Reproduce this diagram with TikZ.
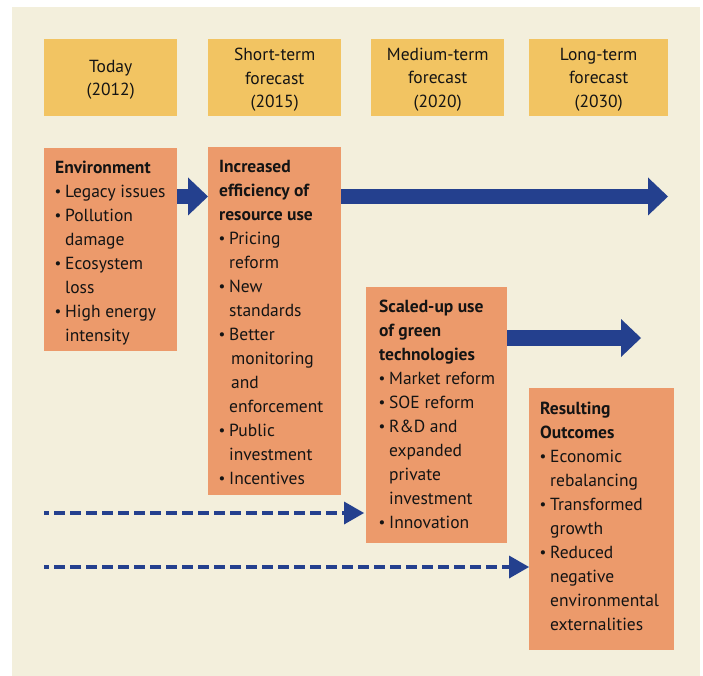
\documentclass[tikz,border=0pt]{standalone}
\usepackage{fontspec}
\setmainfont{PT Sans}
\usetikzlibrary{arrows.meta}
\definecolor{bgc}{RGB}{243,239,220}
\definecolor{hdr}{RGB}{242,196,98}
\definecolor{org}{RGB}{236,154,107}
\definecolor{blu}{RGB}{36,64,142}
\definecolor{ink}{RGB}{20,20,20}
\newcommand\bul{\makebox[10pt][l]{\hspace*{-0.5pt}\raisebox{0.6pt}{\fontsize{15}{15}\selectfont\textbullet}}}
\newcommand\ind{\hspace*{10pt}}
\newcommand\fs{\fontsize{17.5}{24}\selectfont}
\newcommand\hs{\fontsize{17.5}{23.5}\selectfont}
\newcommand\st{\rule{0pt}{18pt}}
\begin{document}
\begin{tikzpicture}[x=1pt,y=-1pt,
  hdrbox/.style={fill=hdr, anchor=north west, inner sep=0pt, minimum height=77pt},
  hdrtxt/.style={inner sep=0pt, align=center, font=\hs, text=ink},
  orgbox/.style={fill=org, anchor=north west, inner sep=0pt},
  bodytxt/.style={anchor=north west, inner sep=0pt, align=left, font=\fs, text=ink},
  bigarrow/.style={draw=blu, line width=15.5pt, -{Triangle[length=20pt,width=38pt,line width=0pt]}},
  dasharrow/.style={draw=blu, line width=4pt, dash pattern=on 11pt off 5pt, dash phase=6pt, -{Triangle[length=20pt,width=23pt,line width=0pt]}}]
\useasboundingbox (0,0) rectangle (703,676);
\fill[bgc] (12,7) rectangle (700,676);
% headers
\node[hdrbox, minimum width=133pt] (today) at (44,39) {};
\node[hdrbox, minimum width=133pt] (short) at (208,39) {};
\node[hdrbox, minimum width=133pt] (medium) at (371,39) {};
\node[hdrbox, minimum width=139pt] (long) at (529,39) {};
\node[hdrtxt] (todayt) at ([yshift=-2pt]today.center) {Today\\(2012)};
\node[hdrtxt] (shortt) at ([yshift=-2pt]short.center) {Short-term\\forecast\\(2015)};
\node[hdrtxt] (mediumt) at ([yshift=-2pt]medium.center) {Medium-term\\forecast\\(2020)};
\node[hdrtxt] (longt) at ([yshift=-2pt]long.center) {Long-term\\forecast\\(2030)};
% boxes
\node[orgbox, minimum width=133pt, minimum height=203pt] (env) at (44,148) {};
\node[orgbox, minimum width=133pt, minimum height=348pt] (inc) at (208,147) {};
\node[orgbox, minimum width=141pt, minimum height=256pt] (scl) at (366,287) {};
\node[orgbox, minimum width=145pt, minimum height=262pt] (res) at (529,388) {};
% texts
\node[bodytxt] (envt) at (55,155) {\st\textbf{Environment}\\
\bul Legacy issues\\
\bul Pollution\\
\ind damage\\
\bul Ecosystem\\
\ind loss\\
\bul High energy\\
\ind intensity};
\node[bodytxt] (inct) at (219,154) {\st\textbf{Increased}\\
\textbf{efficiency of}\\
\textbf{resource use}\\
\bul Pricing\\
\ind reform\\
\bul New\\
\ind standards\\
\bul Better\\
\hspace*{12pt}monitoring\\
\hspace*{12pt}and\\
\ind enforcement\\
\bul Public\\
\ind investment\\
\bul Incentives};
\node[bodytxt] (sclt) at (379,294) {\st\textbf{Scaled-up use}\\
\textbf{of green}\\
\textbf{technologies}\\
\bul Market reform\\
\bul SOE reform\\
\bul R\&D and\\
\ind expanded\\
\ind private\\
\ind investment\\
\bul Innovation};
\node[bodytxt] (rest) at (540,396) {\st\textbf{Resulting}\\
\textbf{Outcomes}\\
\bul Economic\\
\ind rebalancing\\
\bul Transformed\\
\ind growth\\
\bul Reduced\\
\ind negative\\
\ind environmental\\
\ind externalities};
% arrows
\coordinate (a2end) at (668,196.5);
\coordinate (a3end) at (641,338);
\coordinate (d1start) at (44,513);
\coordinate (d2start) at (44,567);
\draw[bigarrow] ([yshift=-48.5pt]env.north east) -- ([yshift=-49.5pt]inc.north west);
\draw[bigarrow] ([yshift=-49.5pt]inc.north east) -- (a2end);
\draw[bigarrow] ([yshift=-51pt]scl.north east) -- (a3end);
\draw[dasharrow] (d1start) -- ([xshift=-2pt,yshift=-226pt]scl.north west);
\draw[dasharrow] (d2start) -- ([yshift=-179pt]res.north west);
\end{tikzpicture}
\end{document}
